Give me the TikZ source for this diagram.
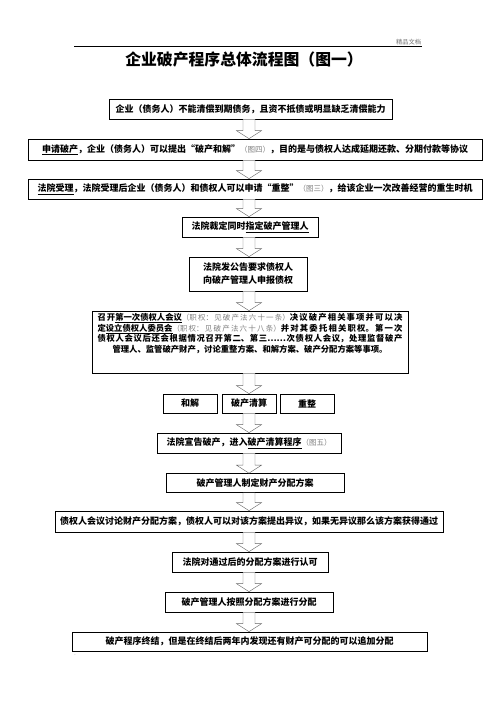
\documentclass[tikz,border=0pt]{standalone}
\usepackage{fontspec}
\setmainfont{Noto Sans CJK SC}
\XeTeXlinebreaklocale "zh"
\XeTeXlinebreakskip=0pt plus 1pt
\usetikzlibrary{calc}

\newcommand\refnote[1]{{\mdseries\fontsize{9}{10}\selectfont\color{black!50}#1}}
\newcommand\hollowarrow[2]{%
  \draw[hollow] ($(#1)+(-6,0)$) -- ($(#2)+(-6,-8)$) -- ($(#2)+(-12.5,-8)$) -- (#2)
    -- ($(#2)+(12.5,-8)$) -- ($(#2)+(6,-8)$) -- ($(#1)+(6,0)$);}

\tikzset{
  box/.style={draw=black, line width=.8pt, fill=white, inner sep=0pt,
    font=\bfseries\fontsize{10.8}{12.8}\selectfont},
  sz/.style 2 args={minimum width=#1*1.2pt, minimum height=#2*1.2pt},
  meettext/.style={anchor=north, align=justify, text width=366pt, inner sep=3pt,
    font=\bfseries\fontsize{10}{12.8}\selectfont},
  hollow/.style={draw=black!60, line width=.5pt, fill=white},
}

\begin{document}
\begin{tikzpicture}[x=1.2pt, y=-1.2pt]
  \useasboundingbox (0,0) rectangle (496,702);
  \coordinate (ax) at (249,0);

  % header
  \draw[line width=.6pt] (74,46) coordinate (hl) -- (422,46) coordinate (hr);
  \node[anchor=south east, inner sep=1pt, text=black!55,
    font=\fontsize{7.5}{8}\selectfont] (mark) at (hr) {精品文档};
  \node[font=\bfseries\fontsize{19}{22}\selectfont] (title) at (244,60) {企业破产程序总体流程图（图一）};

  % boxes
  \node[box, sz={283}{20}] (debt) at (250.5,109) {企业（债务人）不能清偿到期债务，且资不抵债或明显缺乏清偿能力};
  \node[box, sz={454}{21}] (apply) at (255,149.5) {\underline{申请破产}，企业（债务人）可以提出“破产和解”\refnote{（图四）}，目的是与债权人达成延期还款、分期付款等协议};
  \node[box, sz={454}{20}] (accept) at (255,189) {\underline{法院受理}，法院受理后企业（债务人）和债权人可以申请“重整”\refnote{（图三）}，给该企业一次改善经营的重生时机};
  \node[box, sz={136}{20}] (appoint) at (250,227) {法院裁定同时\underline{指定破产管理人}};
  \node[box, sz={118}{34}, align=center, font=\bfseries\fontsize{10.8}{15.6}\selectfont] (claim) at (248,274) {法院发公告要求债权人\\向破产管理人申报债权};
  \node[box, sz={316}{62}, label={[meettext]north:{%
    \leftskip=0pt plus 1fil\rightskip=0pt plus -1fil\parfillskip=0pt plus 2fil
    召开\underline{第一次债权人会议}\refnote{（职权：见破产法六十一条）}决议破产相关事项并可以决\linebreak
    定\underline{设立债权人委员会}\refnote{（职权：见破产法六十八条）}并对其委托相关职权。第一次\linebreak
    债权人会议后还会根据情况召开第二、第三……次债权人会议，处理监督破产\linebreak
    管理人、监管破产财产，讨论重整方案、和解方案、破产分配方案等事项。\endgraf}}] (meeting) at (250,342) {};
  \node[box, sz={54}{19}] (settle) at (190,403.5) {和解};
  \node[box, sz={54}{19}] (liquid) at (249,403.5) {破产清算};
  \node[box, sz={54}{19}] (reorg) at (307,403.5) {重整};
  \node[box, sz={184}{20}] (declare) at (249,443) {法院宣告破产，进入\underline{破产清算程序}\refnote{（图五）}};
  \node[box, sz={178}{19}] (plan) at (255,483) {破产管理人制定财产分配方案};
  \node[box, sz={388}{21}] (discuss) at (249,521.5) {债权人会议讨论财产分配方案，债权人可以对该方案提出异议，如果无异议那么该方案获得通过};
  \node[box, sz={156}{20}] (approve) at (250,562) {法院对通过后的分配方案进行认可};
  \node[box, sz={168}{20}] (share) at (249,602) {破产管理人按照分配方案进行分配};
  \node[box, sz={355}{19}] (close) at (249.5,641.5) {破产程序终结，但是在终结后两年内发现还有财产可分配的可以追加分配};
  \node[inner sep=0pt, text=black!60, font=\fontsize{6}{6}\selectfont] (dot) at (75,655) {.};

  % hollow arrows
  \foreach \a/\b in {debt/apply, apply/accept, accept/appoint, appoint/claim, claim/meeting,
    meeting/liquid, liquid/declare, declare/plan, plan/discuss, discuss/approve,
    approve/share, share/close}
    \hollowarrow{\a.south -| ax}{\b.north -| ax};
\end{tikzpicture}
\end{document}
